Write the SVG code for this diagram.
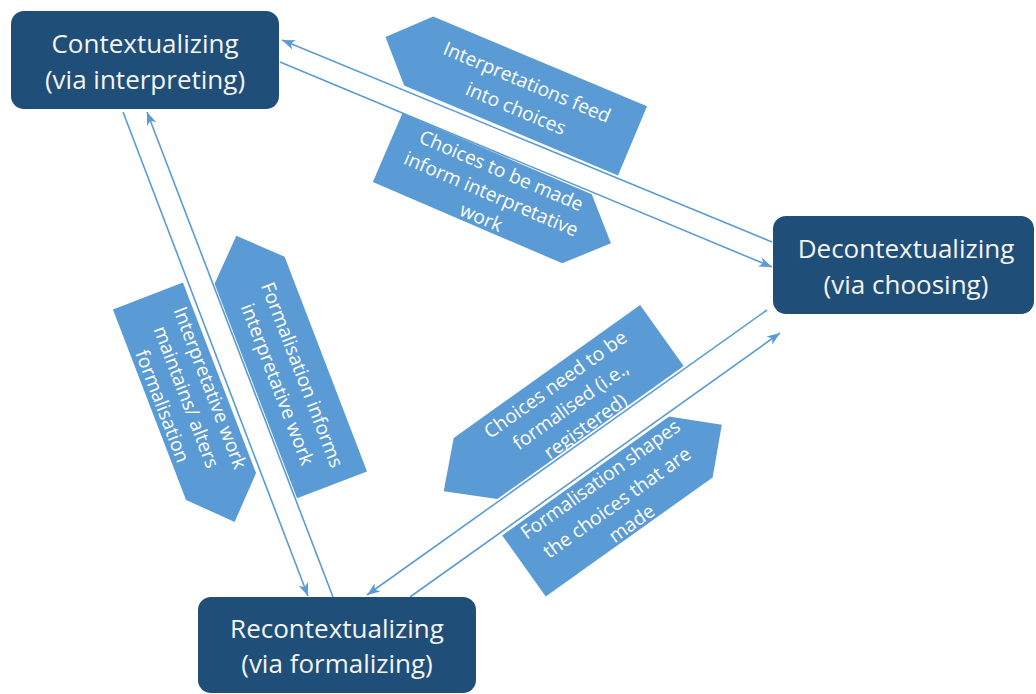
<svg xmlns="http://www.w3.org/2000/svg" width="1036" height="694" viewBox="0 0 1036 694">
<defs>
<style>
.node rect{fill:#1F4E79;}
.node text{font-family:"Open Sans","Liberation Sans",sans-serif;font-size:26px;fill:#F4F4F4;text-anchor:middle;}
.lab polygon{fill:#5B9BD5;}
.lab text{font-family:"Open Sans","Liberation Sans",sans-serif;font-size:19.2px;fill:#FFFFFF;text-anchor:middle;}
.conn line{stroke:#5B9BD5;stroke-width:1.6;fill:none;marker-end:url(#ah);}
</style>
<marker id="ah" markerUnits="userSpaceOnUse" markerWidth="14" markerHeight="12" refX="13" refY="5" orient="auto" viewBox="0 0 14 10">
<path d="M0,0 L13,5 L0,10 L3.5,5 Z" fill="#5B9BD5"/>
</marker>
</defs>
<rect width="1036" height="694" fill="#FFFFFF"/>

<g id="label-interpretations-feed" class="lab" transform="translate(509,89) rotate(22.8)">
<polygon points="-134,0 -98,-37.5 134,-37.5 134,37.5 -98,37.5"/>
<text x="14" y="-6.5">Interpretations feed</text>
<text x="14" y="22">into choices</text>
</g>
<g id="label-choices-inform" class="lab" transform="translate(499.3,195.5) rotate(23.2)">
<polygon points="-121.5,-37.5 84.5,-37.5 121.5,0 84.5,37.5 -121.5,37.5"/>
<text x="-8" y="-17">Choices to be made</text>
<text x="-8" y="8.5">inform interpretative</text>
<text x="-8" y="34">work</text>
</g>
<g id="label-interpretative-maintains" class="lab" transform="translate(191.3,409) rotate(69)">
<polygon points="-121,-37.5 83,-37.5 121,0 83,37.5 -121,37.5"/>
<text x="-13" y="-18.5">Interpretative work</text>
<text x="-13" y="7">maintains/ alters</text>
<text x="-13" y="32.5">formalisation</text>
</g>
<g id="label-formalisation-informs" class="lab" transform="translate(284.2,360.3) rotate(69)">
<polygon points="-133.5,0 -96.5,-37.5 133.5,-37.5 133.5,37.5 -96.5,37.5"/>
<text x="20" y="-5">Formalisation informs</text>
<text x="20" y="21.5">interpretative work</text>
</g>
<g id="label-choices-formalised" class="lab" transform="translate(552.8,413.4) rotate(-35.5)">
<polygon points="-134,0 -95,-37.5 134,-37.5 134,37.5 -95,37.5"/>
<text x="19" y="-15.5">Choices need to be</text>
<text x="19" y="10.5">formalised (i.e.,</text>
<text x="19" y="36">registered)</text>
</g>
<g id="label-formalisation-shapes" class="lab" transform="translate(622.9,495.4) rotate(-35.5)">
<polygon points="-121.5,-37.5 83.5,-37.5 121.5,0 83.5,37.5 -121.5,37.5"/>
<text x="-9" y="-19.5">Formalisation shapes</text>
<text x="-9" y="9">the choices that are</text>
<text x="-9" y="34.5">made</text>
</g>

<g id="connectors" class="conn">
<line x1="772" y1="242" x2="282" y2="40"/>
<line x1="280" y1="62" x2="772" y2="267"/>
<line x1="123" y1="112" x2="308" y2="596"/>
<line x1="333" y1="597" x2="147" y2="112"/>
<line x1="767" y1="310" x2="367" y2="595"/>
<line x1="410" y1="597" x2="780" y2="333"/>
</g>

<g id="node-contextualizing" class="node">
<rect x="11" y="11" width="268" height="98" rx="13"/>
<text x="145" y="53">Contextualizing</text>
<text x="145" y="89">(via interpreting)</text>
</g>
<g id="node-decontextualizing" class="node">
<rect x="773" y="216" width="261" height="98" rx="13"/>
<text x="906" y="258">Decontextualizing</text>
<text x="906" y="294">(via choosing)</text>
</g>
<g id="node-recontextualizing" class="node">
<rect x="198" y="597" width="278" height="96" rx="13"/>
<text x="337" y="638">Recontextualizing</text>
<text x="337" y="673">(via formalizing)</text>
</g>
</svg>
